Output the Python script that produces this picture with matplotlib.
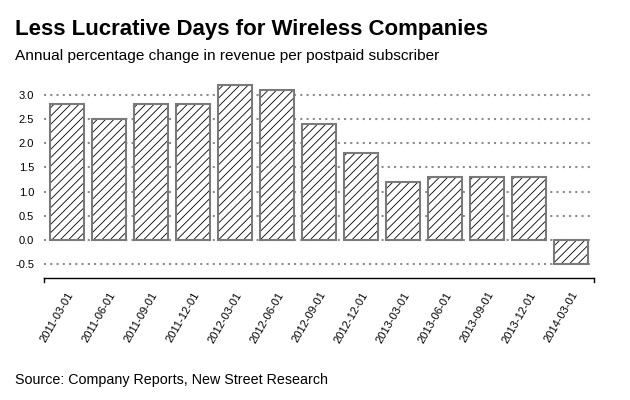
import matplotlib

matplotlib.use("Agg")
import matplotlib.pyplot as plt  # noqa: E402
import numpy as np  # noqa: E402

plt.rcParams["font.family"] = ["Liberation Sans", "DejaVu Sans"]
plt.rcParams["hatch.linewidth"] = 0.6

# Data
quarters = [
    "2011-03-01", "2011-06-01", "2011-09-01", "2011-12-01",
    "2012-03-01", "2012-06-01", "2012-09-01", "2012-12-01",
    "2013-03-01", "2013-06-01", "2013-09-01", "2013-12-01",
    "2014-03-01",
]
rev_change = [2.8, 2.5, 2.8, 2.8, 3.2, 3.1, 2.4, 1.8, 1.2, 1.3, 1.3, 1.3, -0.5]
y_ticks = [-0.5, 0.0, 0.5, 1.0, 1.5, 2.0, 2.5, 3.0]

fig = plt.figure(figsize=(6.3, 4.0), dpi=100)
ax = fig.add_axes([0.0698, 0.306, 0.873, 0.4937])

x = np.arange(len(quarters))

# grid lines
for yv in y_ticks:
    ax.axhline(yv, color="#8c8c8c", linestyle=(0, (1, 2)), linewidth=1.5, zorder=1)

# hatched fill, then grey outline on top
ax.bar(x, rev_change, width=0.81, color="white", edgecolor="black",
       hatch="////", linewidth=0, zorder=2)
ax.bar(x, rev_change, width=0.81, fill=False, edgecolor="#7a7a7a",
       linewidth=1.5, zorder=3)

ax.set_xlim(-0.548, len(quarters) - 1 + 0.548)
ax.set_ylim(-0.77, 3.3)

ax.set_yticks(y_ticks)
ax.set_yticklabels([f"{v:.1f}" for v in y_ticks], fontsize=8)
ax.set_xticks(x)
ax.set_xticklabels(quarters, rotation=60, ha="right", va="top",
                   rotation_mode="anchor", fontsize=8)
ax.tick_params(axis="y", length=0, pad=7)
ax.tick_params(axis="x", length=0, pad=9)

for side in ["top", "right", "left"]:
    ax.spines[side].set_visible(False)
ax.spines["bottom"].set_color("black")
ax.spines["bottom"].set_linewidth(1.0)
# end ticks of the bottom bracket
for xe in (0, 1):
    ax.plot([xe, xe], [0, -0.022], color="black", linewidth=1.0,
            transform=ax.transAxes, clip_on=False)

fig.text(0.024, 0.912, "Less Lucrative Days for Wireless Companies",
         fontsize=16, fontweight="bold", ha="left", va="baseline")
fig.text(0.024, 0.85, "Annual percentage change in revenue per postpaid subscriber",
         fontsize=11.1, ha="left", va="baseline")
fig.text(0.024, 0.04, "Source: Company Reports, New Street Research",
         fontsize=10.3, ha="left", va="baseline")

fig.savefig("out.png", dpi=100, facecolor="white")
plt.close(fig)
